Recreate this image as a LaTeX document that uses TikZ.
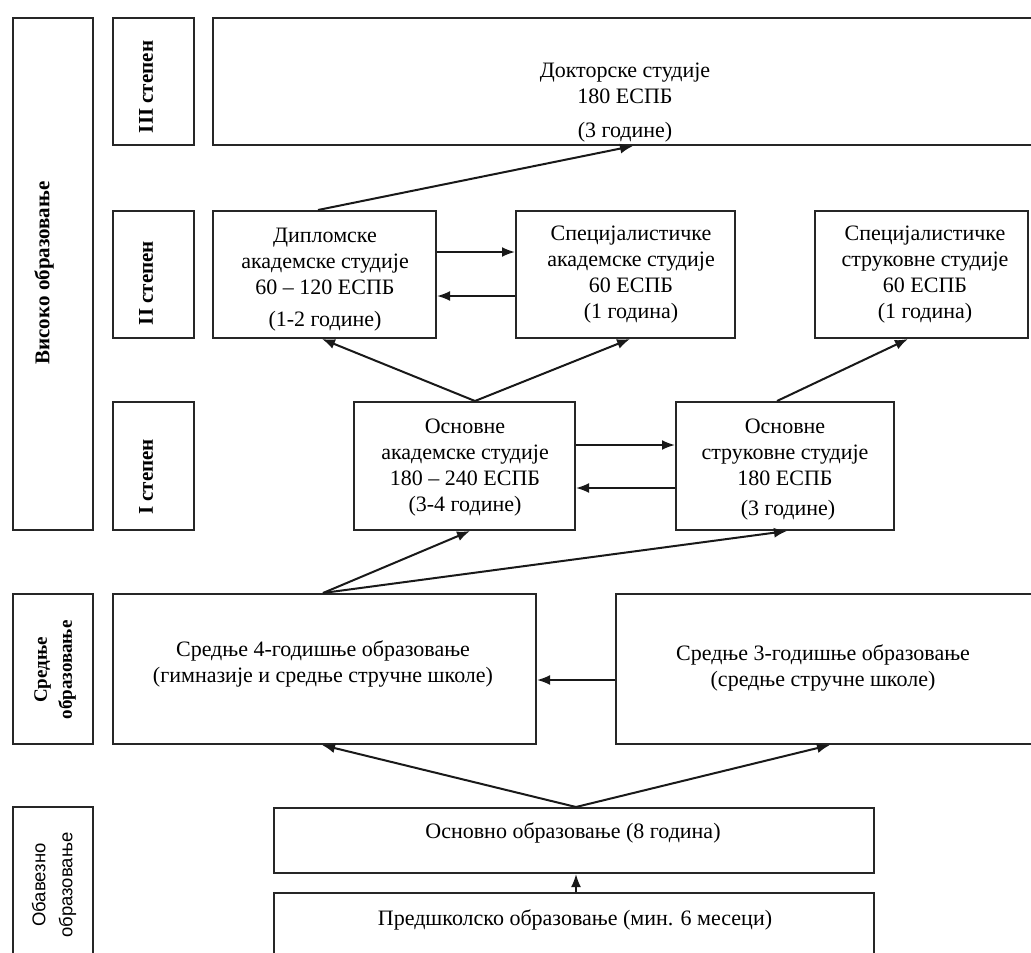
\documentclass[tikz,border=0pt]{standalone}
\usepackage{fontspec}
\setmainfont{Liberation Serif}
\newfontfamily\labelsans{Liberation Sans}
\usetikzlibrary{arrows.meta}

\begin{document}
\begin{tikzpicture}[x=1pt,y=-1pt,
  frame/.style={draw=black!85, line width=2pt, inner sep=0pt},
  txt/.style={align=center, font=\fontsize{22}{26}\selectfont, inner sep=0pt},
  side/.style={rotate=90, align=center, font=\bfseries\fontsize{21}{24}\selectfont, inner sep=0pt},
  sidesmall/.style={rotate=90, align=center, font=\bfseries\fontsize{19}{25}\selectfont, inner sep=0pt},
  link/.style={draw=black!90, line width=2pt, -{Latex[length=13pt,width=10pt]}}]
\useasboundingbox (0,0) rectangle (1031,953);
\fill[white] (0,0) rectangle (1031,953);
\clip (0,0) rectangle (1031,953);

% level frames on the left
\node[frame, minimum width=80pt, minimum height=512pt] (hiL) at (53,274) {};
\node[frame, minimum width=81pt, minimum height=127pt] (d3L) at (153.5,81.5) {};
\node[frame, minimum width=81pt, minimum height=127pt] (d2L) at (153.5,274.5) {};
\node[frame, minimum width=81pt, minimum height=128pt] (d1L) at (153.5,466) {};
\node[frame, minimum width=80pt, minimum height=150pt] (secL) at (53,669) {};
\node[frame, minimum width=80pt, minimum height=180pt] (obL) at (53,897) {};

\node[side] (hiT) at (44,273) {Високо образовање};
\node[side] (d3T) at (146,87) {III степен};
\node[side] (d2T) at (146,283) {II степен};
\node[side] (d1T) at (146,477) {I степен};
\node[sidesmall] (secT) at (55,670) {Средње\\образовање};
\node[sidesmall, font=\labelsans\fontsize{18.5}{27}\selectfont] (obT) at (54,885) {Обавезно\\образовање};

% study programme boxes
\node[frame, minimum width=823pt, minimum height=127pt] (doc) at (624.5,81.5) {};
\node[frame, minimum width=223pt, minimum height=127pt] (dipl) at (324.5,274.5) {};
\node[frame, minimum width=219pt, minimum height=127pt] (specA) at (625.5,274.5) {};
\node[frame, minimum width=213pt, minimum height=127pt] (specS) at (921.5,274.5) {};
\node[frame, minimum width=221pt, minimum height=128pt] (osnA) at (464.5,466) {};
\node[frame, minimum width=218pt, minimum height=128pt] (osnS) at (785,466) {};
\node[frame, minimum width=423pt, minimum height=150pt] (sred4) at (324.5,669) {};
\node[frame, minimum width=420pt, minimum height=150pt] (sred3) at (826,669) {};
\node[frame, minimum width=600pt, minimum height=65pt] (osnovno) at (574,840.5) {};
\node[frame, minimum width=600pt, minimum height=90pt] (pred) at (574,938) {};

% box texts
\node[txt] (docT) at (625,103) {Докторске студије\\180 ЕСПБ\\[8pt](3 године)};
\node[txt] (diplT) at (325,280) {Дипломске\\академске студије\\60 – 120 ЕСПБ\\[6pt](1-2 године)};
\node[txt] (specAT) at (631,275) {Специјалистичке\\академске студије\\60 ЕСПБ\\(1 година)};
\node[txt] (specST) at (925,275) {Специјалистичке\\струковне студије\\60 ЕСПБ\\(1 година)};
\node[txt] (osnAT) at (465,468) {Основне\\академске студије\\180 – 240 ЕСПБ\\(3-4 године)};
\node[txt] (osnST) at (785,470) {Основне\\струковне студије\\180 ЕСПБ\\[4pt]\hspace*{6pt}(3 године)};
\node[txt] (sred4T) at (323,664) {Средње 4-годишње образовање\\(гимназије и средње стручне школе)};
\node[txt] (sred3T) at (823,668) {Средње 3-годишње образовање\\(средње стручне школе)};
\node[txt] (osnovnoT) at (573,833) {Основно образовање (8 година)};
\node[txt] (predT) at (575,920) {Предшколско образовање (мин. 6 месеци)};

% transitions between levels
\draw[link] ([xshift=-6.5pt]dipl.north) -- ([xshift=8.5pt]doc.south);
\draw[link] ([yshift=22.5pt]dipl.east) -- ([yshift=22.5pt]specA.west);
\draw[link] ([yshift=-21.5pt]specA.west) -- ([yshift=-21.5pt]dipl.east);
\draw[link] ([xshift=10.5pt]osnA.north) -- ([xshift=-2.5pt]dipl.south);
\draw[link] ([xshift=10.5pt]osnA.north) -- ([xshift=4.5pt]specA.south);
\draw[link] ([xshift=-8pt]osnS.north) -- ([xshift=-13.5pt]specS.south);
\draw[link] ([yshift=21pt]osnA.east) -- ([yshift=21pt]osnS.west);
\draw[link] ([yshift=-22pt]osnS.west) -- ([yshift=-22pt]osnA.east);
\draw[link] ([xshift=-1.5pt]sred4.north) -- ([xshift=5.5pt]osnA.south);
\draw[link] ([xshift=-1.5pt]sred4.north) -- ([xshift=2pt]osnS.south);
\draw[link] ([yshift=-11pt]sred3.west) -- ([yshift=-11pt]sred4.east);
\draw[link] ([xshift=2pt]osnovno.north) -- ([xshift=-2.5pt]sred4.south);
\draw[link] ([xshift=2pt]osnovno.north) -- ([xshift=4pt]sred3.south);
\draw[link] ([xshift=2pt]pred.north) -- ([xshift=2pt]osnovno.south);
\end{tikzpicture}
\end{document}
